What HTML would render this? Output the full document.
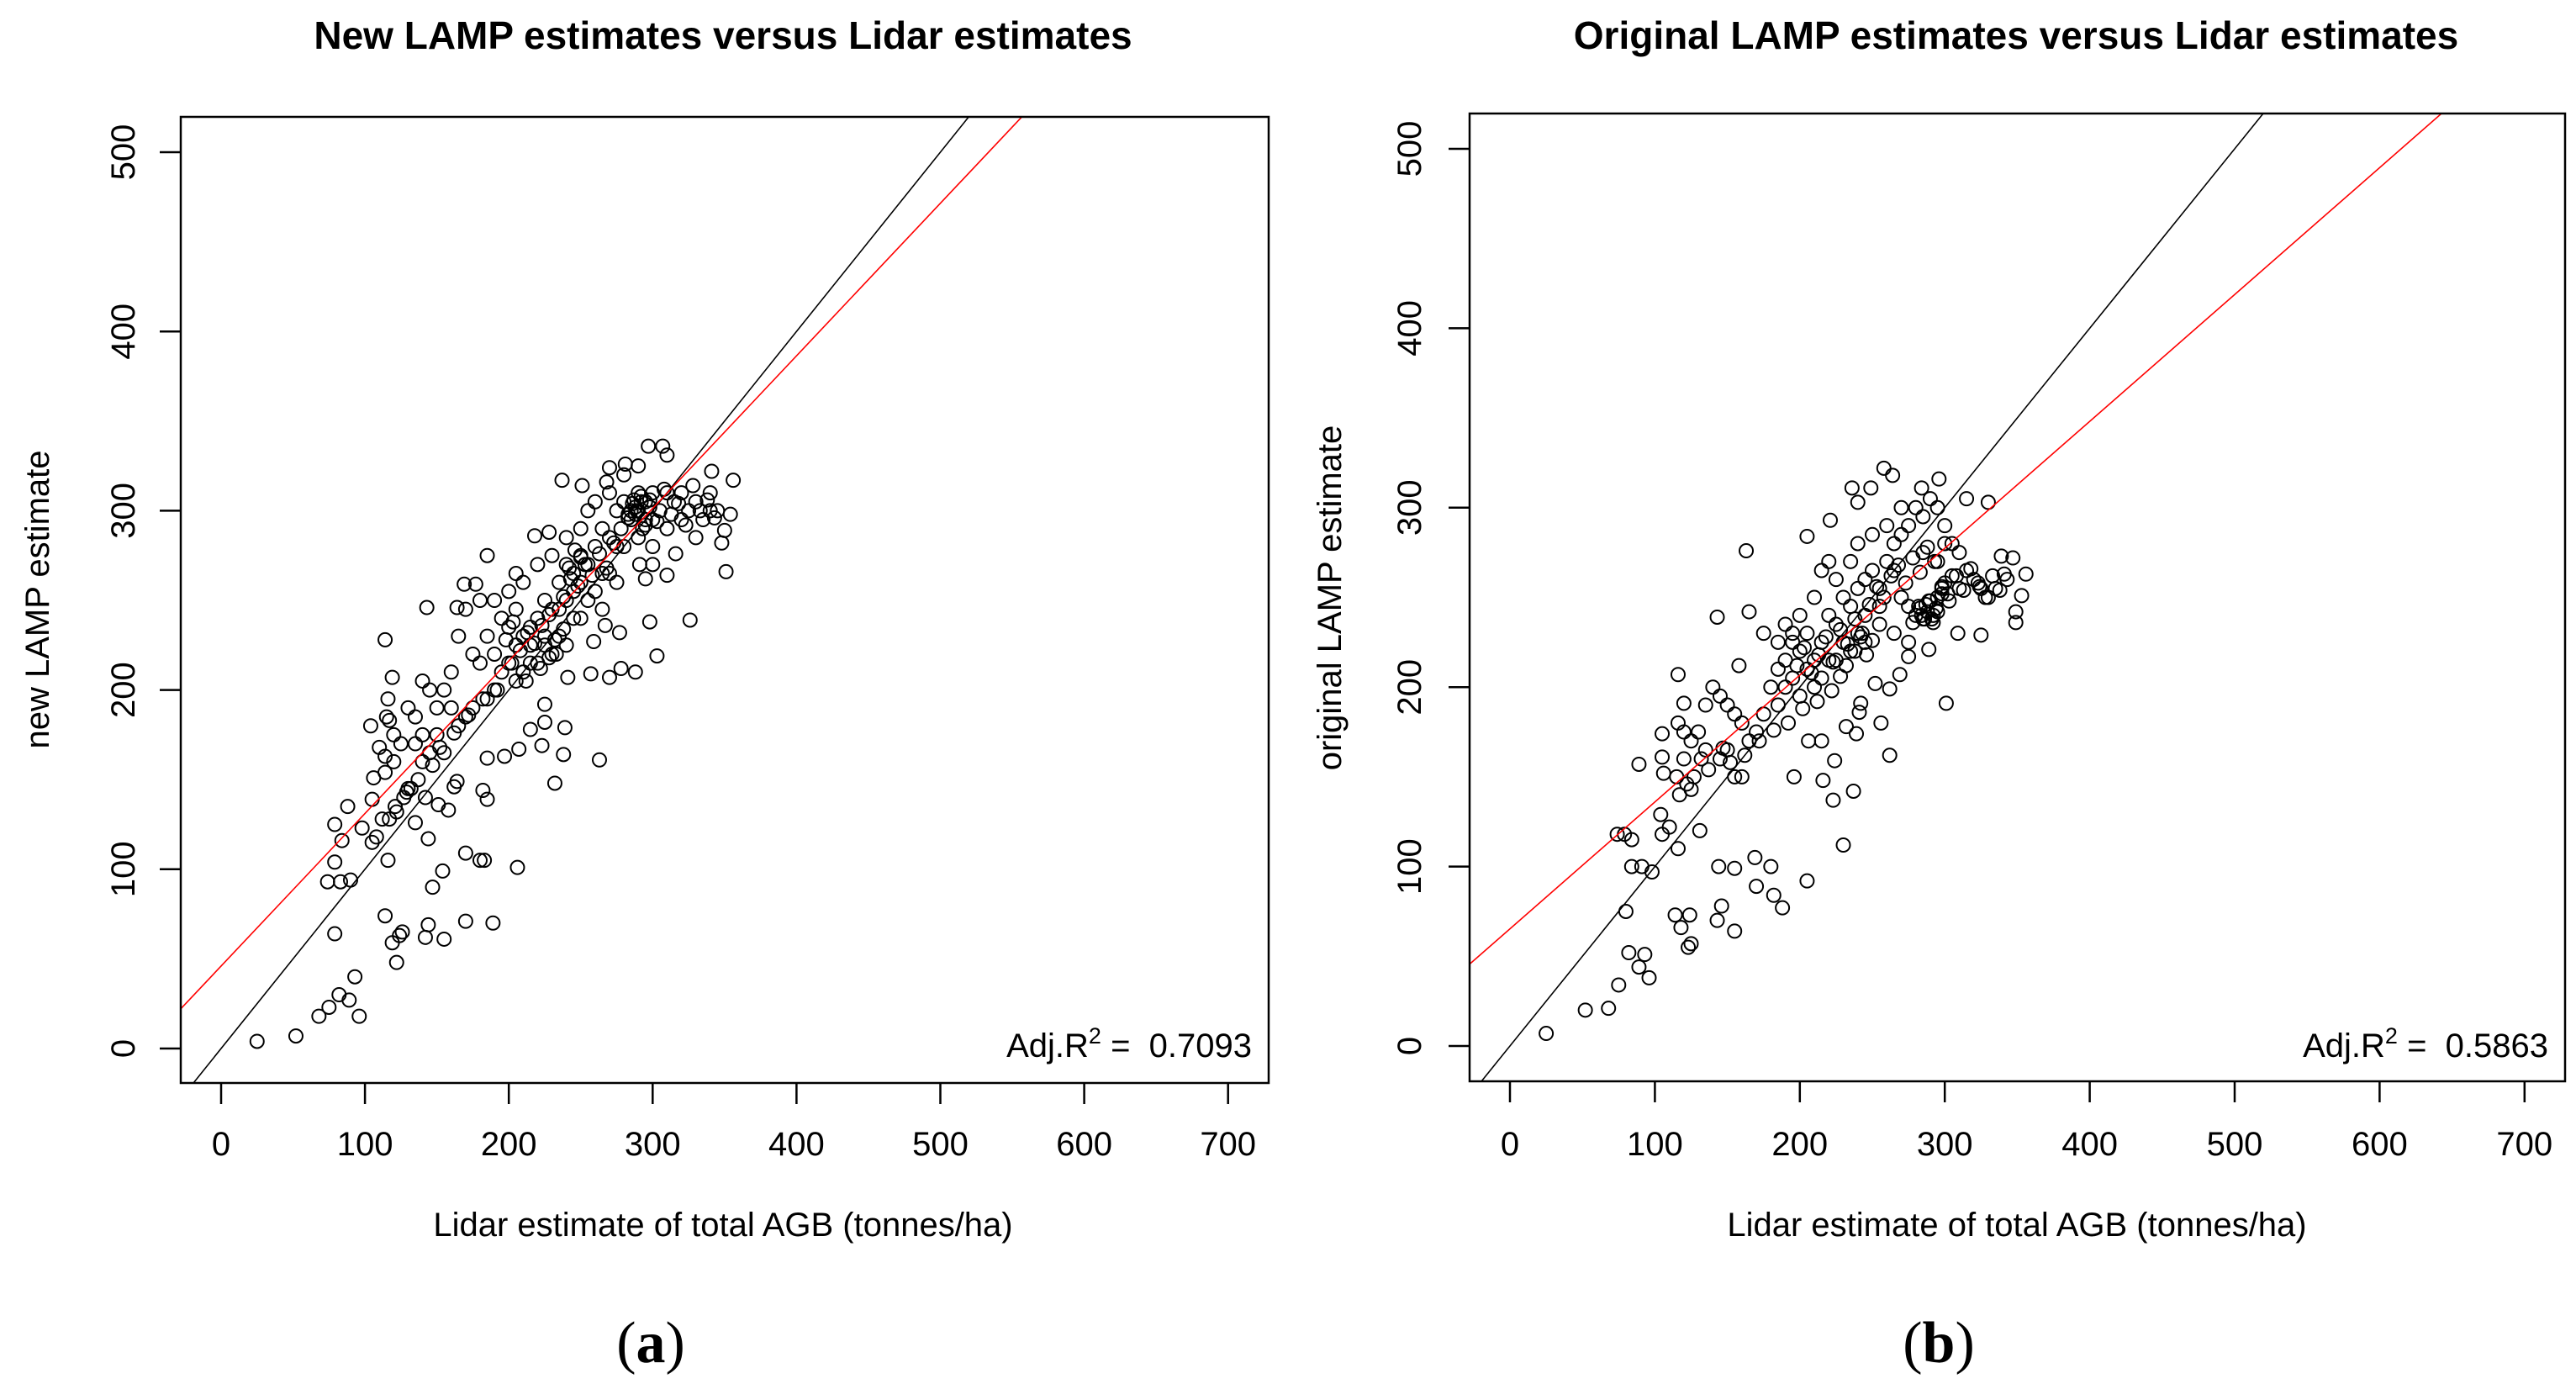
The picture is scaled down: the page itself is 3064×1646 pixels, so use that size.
<!DOCTYPE html>
<html><head><meta charset="utf-8"><style>
html,body{margin:0;padding:0;background:#fff;}
svg{display:block;}
text{font-family:"Liberation Sans",Arial,sans-serif;fill:#000;}
</style></head><body>
<svg id="fig" width="3064" height="1646" viewBox="0 0 3064 1646" xmlns="http://www.w3.org/2000/svg"></svg>
<script>
const xTicks=[0,100,200,300,400,500,600,700];
const yTicks=[0,100,200,300,400,500];
const lidarA=[25,52,68,75,82,89,93,96,79,74,83,90,79,84,79,88,98,105,108,105,106,104,110,114,114,119,116,117,114,112,121,116,114,119,124,126,122,129,135,144,147,144,142,154,155,170,170,180,183,189,206,158,151,142,164,162,182,185,185,197,207,215,223,225,225,232,238,239,263,241,257,270,278,288,303,326,298,277,267,259,143,185,169,177,164,237,218,228,251,268,270,281,297,307,310,356,341,354,350,348,351,310,316,
180,185,190,195,200,205,210,215,220,225,230,235,240,245,250,255,260,265,270,275,280,285,290,295,300,305,310,315,320,325,330,335,340,240,245,250,235,225,215,205,195,190,185,175,170,160,150,145,140,135,130,125,135,155,160,165,170,175,180,190,200,205,210,220,230,240,250,255,260,270,280,290,285,290,292,288,295,300,275,265,255,245,235,225,215,205,200,210,220,230,240,250,260,270,280,300,310,320,330,340,345,300,290,275,265,150,145,140,155,165,120,115,120,130,140,
198,203,208,213,218,223,228,233,238,243,248,253,258,263,268,273,278,283,288,293,298,303,308,313,318,323,328,333,338,343,283,286,289,292,295,298,283,287,291,295,242,246,250,238,232,228,222,212,202,192,182,172,162,152,147,137,132,127,122,117];
const lampNew=[4,7,18,23,30,27,40,18,64,93,93,94,104,116,125,135,123,115,118,139,151,180,168,154,228,207,195,183,163,128,135,105,74,59,63,65,48,143,126,117,90,69,62,99,61,71,109,105,105,70,101,133,136,140,149,146,144,139,162,163,167,178,169,182,192,148,164,179,161,207,209,207,212,210,219,239,238,232,236,227,246,275,259,259,246,317,286,288,314,316,324,326,336,336,331,317,322,298,289,282,266,264,276,
215,230,220,240,235,245,230,225,240,250,245,260,270,265,275,270,280,290,285,300,305,300,310,305,295,300,290,305,310,300,305,295,300,250,255,260,230,230,235,225,210,200,195,190,185,190,190,200,205,185,190,170,170,200,210,230,245,220,250,250,255,265,260,270,275,285,290,300,305,310,320,325,295,300,305,298,295,310,280,265,250,240,245,225,215,205,215,210,215,220,225,240,255,265,280,280,310,295,285,310,300,270,285,260,245,175,165,160,165,180,175,185,160,145,175,
228,238,222,232,226,236,242,220,252,262,258,270,264,276,268,282,290,296,302,290,306,294,312,298,304,292,314,300,306,296,298,304,300,308,292,302,296,306,270,262,268,278,274,234,228,218,212,205,215,200,195,186,176,168,158,150,145,140,132,128];
const lidarB=[25,52,68,75,82,89,93,96,80,74,79,84,84,91,98,89,105,105,106,104,105,110,116,116,116,120,114,118,124,123,125,125,131,144,146,143,155,155,169,170,180,182,188,205,230,237,223,216,224,196,206,215,232,239,241,242,256,262,301,325,309,289,275,269,262,252,143,163,165,158,175,205,221,236,240,258,264,249,284,296,315,330,339,347,349,349,353,356,324,341,
180,185,190,195,200,205,210,215,220,225,230,235,240,245,250,255,260,265,270,275,280,285,290,295,300,305,310,315,320,325,330,335,280,282,285,288,290,292,295,298,300,302,305,310,278,275,270,265,255,245,240,230,220,210,200,190,185,175,170,160,155,150,145,140,135,130,125,135,145,150,155,120,115,120,160,165,195,200,210,215,220,225,235,240,250,260,270,285,295,300,190,185,195,205,215,225,235,245,255,265,275,
198,203,208,213,218,223,228,233,238,243,248,253,258,263,268,273,278,283,288,293,298,303,308,313,318,323,328,333,338,343,283,286,289,292,295,298,284,287,291,294,242,246,250,238,232,228,222,212,202,192,182,172,162,152,147,137,132,127,122,117];
const lampOrig=[7,20,21,34,52,44,51,38,75,118,118,115,100,100,97,157,174,161,152,129,118,122,110,207,180,191,73,66,73,55,57,143,120,100,78,70,64,99,105,89,100,84,77,92,112,142,137,148,159,150,170,170,178,174,186,191,180,162,191,229,230,221,217,207,199,202,239,276,242,212,230,284,293,311,303,322,318,311,311,316,305,303,273,272,242,236,251,263,256,263,
200,210,215,205,220,230,215,225,240,235,250,245,255,260,265,255,270,280,285,290,300,295,305,300,290,280,275,265,260,255,250,255,240,245,238,242,248,240,250,255,258,252,262,255,236,245,250,265,245,240,230,225,215,200,195,200,190,185,175,180,185,190,195,200,190,175,170,165,160,165,150,160,150,175,150,170,225,240,250,265,270,260,270,280,285,290,300,275,270,280,235,225,230,210,205,215,220,225,235,230,225,
212,222,208,218,228,214,232,224,238,230,246,256,250,262,268,258,272,264,278,270,256,248,262,254,266,258,250,262,254,260,244,238,248,236,242,252,240,246,238,244,228,218,226,220,212,206,198,192,188,180,176,170,162,158,166,154,160,150,146,140];
const fitA=[46,0.851], fitB=[65.3,0.707];
const adjR2=["0.7093","0.5863"];

const NS="http://www.w3.org/2000/svg";
const svg=document.getElementById('fig');
function mk(tag,attrs,parent){const e=document.createElementNS(NS,tag);for(const k in attrs)e.setAttribute(k,attrs[k]);(parent||svg).appendChild(e);return e;}

const panels=[
 {box:[215,139,1509,1288],x0:263,xs:1.711,y0:1247,ys:2.132,title:"New LAMP estimates versus Lidar estimates",tcx:860,ylab:"new LAMP estimate",ylx:58,ylcx:713,ytx:160,xs_:lidarA,ys_:lampNew,fit:fitA,r2:adjR2[0],cap:"a",capx:774,key:"a"},
 {box:[1748,135,3051,1286],x0:1796,xs:1.724,y0:1244,ys:2.134,title:"Original LAMP estimates versus Lidar estimates",tcx:2398,ylab:"original LAMP estimate",ylx:1595,ylcx:711,ytx:1690,xs_:lidarB,ys_:lampOrig,fit:fitB,r2:adjR2[1],cap:"b",capx:2306,key:"b"}
];
panels.forEach(p=>{
 const g=mk('g',{});
 
 
 const X=v=>p.x0+v*p.xs, Y=v=>p.y0-v*p.ys;
 const [l,t,r,b]=p.box;
 const clipId='clip'+p.key;
 const cp=mk('clipPath',{id:clipId},g); mk('rect',{x:l,y:t,width:r-l,height:b-t},cp);
 const tt=mk('text',{x:p.tcx,y:58,'text-anchor':'middle','font-size':46,'font-weight':'bold'},g);tt.textContent=p.title;
 
 
 const pg=mk('g',{'clip-path':'url(#'+clipId+')'},g);
 for(let i=0;i<p.xs_.length;i++){
  const c=mk('circle',{cx:X(p.xs_[i]),cy:Y(p.ys_[i]),r:8,fill:'none',stroke:'#000','stroke-width':2},pg);
  
  
 }
 const xa=-60,xb=800;
 const l1=mk('line',{x1:X(xa),y1:Y(xa),x2:X(xb),y2:Y(xb),stroke:'#000','stroke-width':1.6},pg);
 
 
 const l2=mk('line',{x1:X(xa),y1:Y(p.fit[0]+p.fit[1]*xa),x2:X(xb),y2:Y(p.fit[0]+p.fit[1]*xb),stroke:'#ff0000','stroke-width':1.6},pg);
 
 
 const bx=mk('rect',{x:l,y:t,width:r-l,height:b-t,fill:'none',stroke:'#000','stroke-width':2.5},g);
 
 
 xTicks.forEach(v=>{
  mk('line',{x1:X(v),y1:b,x2:X(v),y2:b+25,stroke:'#000','stroke-width':2.5},g);
  const tx=mk('text',{x:X(v),y:1374,'text-anchor':'middle','font-size':40},g);tx.textContent=v;
  
  
 });
 yTicks.forEach(v=>{
  mk('line',{x1:l,y1:Y(v),x2:l-25,y2:Y(v),stroke:'#000','stroke-width':2.5},g);
  const tx=mk('text',{x:p.ytx,y:Y(v),'text-anchor':'middle','font-size':40,transform:'rotate(-90 '+p.ytx+' '+Y(v)+')'},g);tx.textContent=v;
  
  
 });
 const xl=mk('text',{x:X(0)+(p.key=='a'?597:603),y:1470,'text-anchor':'middle','font-size':40},g);xl.textContent="Lidar estimate of total AGB (tonnes/ha)";
 
 
 const yl=mk('text',{x:p.ylx,y:p.ylcx,'text-anchor':'middle','font-size':40,transform:'rotate(-90 '+p.ylx+' '+p.ylcx+')'},g);yl.textContent=p.ylab;
 
 
 const rt=mk('text',{x:r-20,y:1257,'text-anchor':'end','font-size':40},g);
 rt.innerHTML='Adj.R<tspan dy="-16" font-size="27">2</tspan><tspan dy="16">\u00a0=\u00a0\u00a0'+p.r2+'</tspan>';
 
 
 const cap=mk('text',{x:p.capx,y:1620,'text-anchor':'middle','font-size':70,style:'font-family:"Liberation Serif",serif'},g);
 cap.innerHTML='(<tspan font-weight="bold">'+p.cap+'</tspan>)';
 
 
});
</script>
</body></html>
